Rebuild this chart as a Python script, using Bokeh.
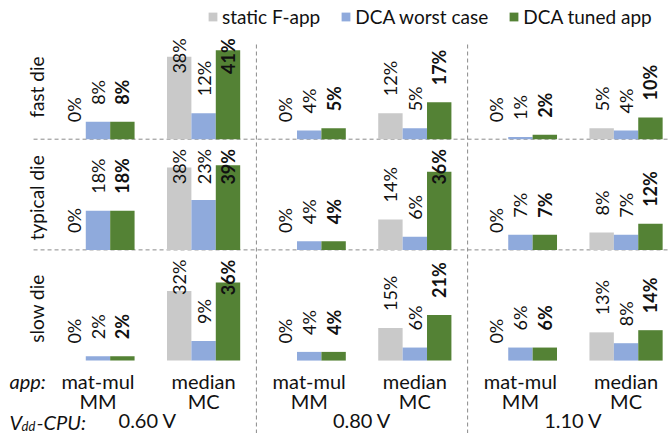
import math
from bokeh.plotting import figure
from bokeh.models import Range1d, ColumnDataSource, Legend, LegendItem, Label
from bokeh.core.properties import value
from bokeh.embed import file_html
from bokeh.resources import INLINE

# ---------------- data ----------------
dies = ["fast die", "typical die", "slow die"]
app_line1 = ["mat-mul", "median", "mat-mul", "median", "mat-mul", "median"]
app_line2 = ["MM", "MC", "MM", "MC", "MM", "MC"]
voltages = ["0.60 V", "0.80 V", "1.10 V"]
series_names = ["static F-app", "DCA worst case", "DCA tuned app"]
series_colors = ["#C9C9C9", "#8FAADC", "#548235"]

# values (%) per die, for groups: 0.60V MM, 0.60V MC, 0.80V MM, 0.80V MC, 1.10V MM, 1.10V MC
static_f_app = {
    "fast die":    [0, 38, 0, 12, 0, 5],
    "typical die": [0, 38, 0, 14, 0, 8],
    "slow die":    [0, 32, 0, 15, 0, 13],
}
dca_worst_case = {
    "fast die":    [8, 12, 4, 5, 1, 4],
    "typical die": [18, 23, 4, 6, 7, 7],
    "slow die":    [2, 9, 4, 6, 6, 8],
}
dca_tuned_app = {
    "fast die":    [8, 41, 5, 17, 2, 10],
    "typical die": [18, 39, 4, 36, 7, 12],
    "slow die":    [2, 36, 4, 21, 6, 14],
}
all_series = [static_f_app, dca_worst_case, dca_tuned_app]

# ---------------- layout constants ----------------
W, H = 668, 433
X0, X1 = -0.923, 5.402
Y0, Y1 = -33.6, 165.9
ROW_STEP = 51.0           # data units between row baselines
ROW_TOP = 46.5            # top of a row's usable band (data units)
row_offset = {"fast die": 2 * ROW_STEP, "typical die": ROW_STEP, "slow die": 0.0}
BAR_W = 0.231
bar_shift = [-BAR_W, 0.0, BAR_W]
PX_PER_UNIT_Y = H / (Y1 - Y0)
LABEL_GAP = 17 / PX_PER_UNIT_Y
LABEL_FS = 18
FONT = "Lato"
TXT = "#111111"
GUIDE = "#8a8a8a"

p = figure(width=W, height=H, x_range=Range1d(X0, X1), y_range=Range1d(Y0, Y1),
           output_backend="svg", toolbar_location=None, min_border=0,
           x_axis_type=None, y_axis_type=None)
p.grid.visible = False
p.outline_line_color = None
p.background_fill_color = "white"

n_groups = len(app_line1)

# dashed guide lines
hy = [row_offset[d] for d in dies[:2]]
p.segment(x0=[-0.61] * 2, x1=[X1] * 2, y0=hy, y1=hy, line_color=GUIDE, line_width=1, line_dash="4 3")
vx = [1.5, 3.5]
p.segment(x0=vx, x1=vx, y0=[Y0] * 2, y1=[146.1] * 2, line_color=GUIDE, line_width=1, line_dash="4 3")

# bars
renderers = []
for si, ser in enumerate(all_series):
    xs, tops, bottoms = [], [], []
    for d in dies:
        for g in range(n_groups):
            xs.append(g + bar_shift[si])
            bottoms.append(row_offset[d])
            tops.append(row_offset[d] + ser[d][g])
    src = ColumnDataSource(dict(x=xs, top=tops, bottom=bottoms))
    r = p.vbar(x="x", top="top", bottom="bottom", width=BAR_W, source=src,
               fill_color=series_colors[si], line_color=None)
    renderers.append(r)

# value labels
def est_len(txt):
    n = len(txt)
    return (0.58 * (n - 1) + 0.82) * LABEL_FS / PX_PER_UNIT_Y

for si, ser in enumerate(all_series):
    groups = {"left": dict(x=[], y=[], t=[]), "right": dict(x=[], y=[], t=[])}
    for d in dies:
        for g in range(n_groups):
            v = ser[d][g]
            t = f"{v}%"
            x = g + bar_shift[si]
            if v + LABEL_GAP + est_len(t) > ROW_TOP:
                groups["right"]["x"].append(x); groups["right"]["y"].append(row_offset[d] + ROW_TOP)
                groups["right"]["t"].append(t)
            else:
                groups["left"]["x"].append(x); groups["left"]["y"].append(row_offset[d] + v + LABEL_GAP)
                groups["left"]["t"].append(t)
    for align, gd in groups.items():
        if not gd["x"]:
            continue
        p.text(x=gd["x"], y=gd["y"], text=gd["t"], angle=math.pi / 2, text_align=align,
               text_baseline="middle", text_font=value(FONT), text_font_size=f"{LABEL_FS}px",
               text_font_style="bold" if si == 2 else "normal", text_color=TXT)

# row labels
p.text(x=[-0.582] * 3, y=[row_offset[d] + 24 for d in dies], text=dies, angle=math.pi / 2,
       text_align="center", text_baseline="middle", text_font=value(FONT),
       text_font_size="19px", text_color=TXT)

# app labels and voltages
gx = list(range(n_groups))
p.text(x=gx, y=[-9.2] * n_groups, text=app_line1, text_align="center", text_baseline="middle",
       text_font=value(FONT), text_font_size="20px", text_color=TXT)
p.text(x=gx, y=[-18.4] * n_groups, text=app_line2, text_align="center", text_baseline="middle",
       text_font=value(FONT), text_font_size="20px", text_color=TXT)
p.text(x=[0.47, 2.5, 4.5], y=[-27.2] * 3, text=voltages, text_align="center", text_baseline="middle",
       text_font=value(FONT), text_font_size="20px", text_color=TXT)

# axis captions
def cap(x, y, text, size="20px"):
    p.add_layout(Label(x=x, y=y, x_units="screen", y_units="screen", text=text,
                       text_font=FONT, text_font_size=size, text_font_style="italic",
                       text_color=TXT, text_baseline="middle"))

cap(9, 53, "app:")
cap(9, 12, "V")
cap(21, 8, "dd", "13px")
cap(36, 12, "-CPU:")

# legend
legend = Legend(items=[LegendItem(label=n, renderers=[r]) for n, r in zip(series_names, renderers)],
                orientation="horizontal", location=(207, 405), glyph_width=11, glyph_height=11,
                label_standoff=4, spacing=20, padding=0, margin=0, border_line_color=None,
                background_fill_alpha=0, label_text_font=FONT, label_text_font_size="19px",
                label_text_color=TXT, label_height=20)
p.add_layout(legend)

open("out.html", "w").write(file_html(p, INLINE))
